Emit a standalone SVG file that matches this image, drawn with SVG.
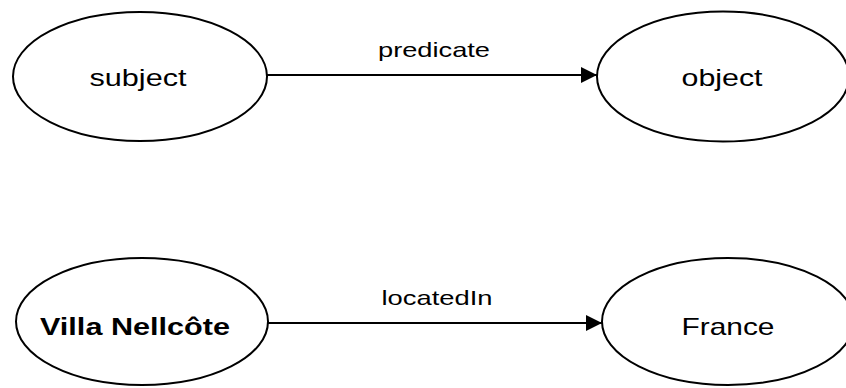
<svg xmlns="http://www.w3.org/2000/svg" width="846" height="388" viewBox="0 0 846 388">
  <style>
    .node { fill: #ffffff; stroke: #000000; stroke-width: 2; }
    .edge { fill: none; stroke: #000000; stroke-width: 2; }
    .label { font-family: "Liberation Sans", Arial, sans-serif; font-size: 24px; fill: #000000; text-anchor: middle; }
    .bold { font-weight: bold; }
    .edge-label { font-family: "Liberation Sans", Arial, sans-serif; font-size: 21px; fill: #000000; text-anchor: middle; }
  </style>
  <defs>
    <marker id="arrow" markerWidth="8" markerHeight="8" refX="8" refY="4" orient="auto" markerUnits="strokeWidth">
      <path d="M0,0 L8,4 L0,8 Z" fill="#000000"/>
    </marker>
  </defs>
  <rect width="846" height="388" fill="#ffffff"/>

  <g id="connectors">
    <line class="edge" x1="267" y1="75" x2="597" y2="75" marker-end="url(#arrow)"/>
    <line class="edge" x1="268" y1="323" x2="602" y2="323" marker-end="url(#arrow)"/>
    <text class="edge-label" x="434" y="57" textLength="112" lengthAdjust="spacingAndGlyphs">predicate</text>
    <text class="edge-label" x="437" y="305" textLength="111" lengthAdjust="spacingAndGlyphs">locatedIn</text>
  </g>

  <g id="subject">
    <ellipse class="node" cx="140" cy="76.5" rx="127" ry="64.5"/>
    <text class="label" x="138" y="86" textLength="97" lengthAdjust="spacingAndGlyphs">subject</text>
  </g>

  <g id="object">
    <ellipse class="node" cx="723" cy="76.5" rx="126" ry="65"/>
    <text class="label" x="722" y="86" textLength="81" lengthAdjust="spacingAndGlyphs">object</text>
  </g>

  <g id="villa-nellcote">
    <ellipse class="node" cx="142" cy="321.5" rx="126" ry="63.5"/>
    <text class="label bold" x="135" y="335" textLength="190" lengthAdjust="spacingAndGlyphs">Villa Nellcôte</text>
  </g>

  <g id="france">
    <ellipse class="node" cx="728" cy="321.5" rx="126" ry="63.5"/>
    <text class="label" x="728" y="335" textLength="93" lengthAdjust="spacingAndGlyphs">France</text>
  </g>
</svg>
